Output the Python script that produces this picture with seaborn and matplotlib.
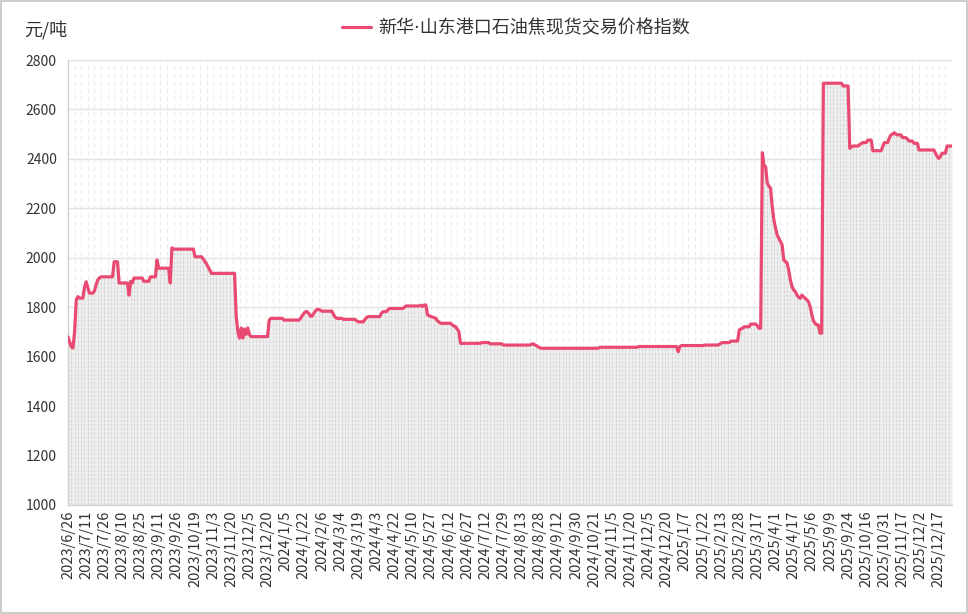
import numpy as np
import pandas as pd
import matplotlib
matplotlib.use("Agg")
import matplotlib.pyplot as plt
import seaborn as sns

# trading-day index at which the price changes, and the price from that day on
change_idx = [
    0, 1, 2, 3, 4, 5, 6, 7, 10, 11, 12, 13, 16, 17, 18, 19, 20, 28, 31, 37,
    38, 39, 40, 46, 50, 54, 55, 62, 63, 64, 77, 82, 83, 84, 85, 86, 87, 102, 103, 104,
    105, 106, 107, 108, 109, 110, 111, 122, 123, 131, 141, 142, 143, 144, 146, 147, 149, 150, 151, 153,
    154, 161, 162, 163, 167, 175, 176, 180, 181, 182, 190, 191, 194, 195, 204, 205, 214, 215, 216, 218,
    219, 220, 221, 222, 223, 224, 225, 226, 233, 234, 235, 236, 237, 238, 251, 256, 264, 281, 282, 283,
    284, 285, 286, 287, 322, 323, 346, 370, 371, 372, 386, 395, 396, 397, 402, 407, 408, 409, 410, 414,
    418, 419, 421, 422, 423, 424, 425, 426, 427, 428, 429, 430, 431, 432, 433, 434, 435, 436, 437, 438,
    439, 440, 441, 442, 443, 444, 445, 446, 447, 448, 449, 450, 451, 452, 453, 454, 456, 458, 470, 474,
    475, 476, 480, 481, 482, 485, 488, 494, 495, 498, 499, 500, 501, 502, 503, 506, 509, 510, 513, 516,
    526, 527, 528, 529, 530, 533,
]
change_price = [
    1680, 1660, 1640, 1635, 1700, 1830, 1843, 1837, 1880, 1903, 1880, 1857, 1865, 1890, 1910, 1918, 1923, 1984, 1898, 1849,
    1905, 1898, 1918, 1905, 1923, 1991, 1958, 1898, 2040, 2035, 2004, 1995, 1985, 1975, 1962, 1950, 1937, 1762, 1700, 1675,
    1716, 1675, 1712, 1690, 1716, 1690, 1681, 1748, 1755, 1748, 1755, 1765, 1775, 1782, 1775, 1764, 1775, 1785, 1791, 1788,
    1784, 1770, 1760, 1755, 1751, 1745, 1741, 1750, 1758, 1762, 1775, 1782, 1790, 1795, 1800, 1805, 1808, 1803, 1809, 1769,
    1766, 1762, 1760, 1758, 1755, 1745, 1740, 1735, 1728, 1724, 1721, 1712, 1701, 1654, 1657, 1652, 1647, 1650, 1652, 1648,
    1645, 1640, 1636, 1634, 1636, 1638, 1641, 1620, 1641, 1645, 1647, 1650, 1655, 1657, 1663, 1708, 1712, 1715, 1721, 1732,
    1725, 1715, 2425, 2375, 2368, 2301, 2290, 2281, 2207, 2153, 2120, 2092, 2079, 2065, 2052, 1991, 1985, 1978, 1950, 1910,
    1883, 1870, 1863, 1850, 1840, 1836, 1849, 1842, 1836, 1830, 1822, 1802, 1770, 1745, 1735, 1728, 1695, 2706, 2695, 2443,
    2448, 2452, 2458, 2462, 2466, 2476, 2433, 2450, 2466, 2485, 2497, 2500, 2506, 2500, 2497, 2486, 2480, 2472, 2463, 2436,
    2423, 2410, 2402, 2410, 2423, 2452,
]
n_days = 537

# x labels, one every 11 trading days
tick_labels = [
    "2023/6/26", "2023/7/11", "2023/7/26", "2023/8/10", "2023/8/25", "2023/9/11", "2023/9/26",
    "2023/10/19", "2023/11/3", "2023/11/20", "2023/12/5", "2023/12/20", "2024/1/5", "2024/1/22",
    "2024/2/6", "2024/3/4", "2024/3/19", "2024/4/3", "2024/4/22", "2024/5/10", "2024/5/27",
    "2024/6/12", "2024/6/27", "2024/7/12", "2024/7/29", "2024/8/13", "2024/8/28", "2024/9/12",
    "2024/9/30", "2024/10/21", "2024/11/5", "2024/11/20", "2024/12/5", "2024/12/20", "2025/1/7",
    "2025/1/22", "2025/2/13", "2025/2/28", "2025/3/17", "2025/4/1", "2025/4/17", "2025/5/6",
    "2025/9/9", "2025/9/24", "2025/10/16", "2025/10/31", "2025/11/17", "2025/12/2", "2025/12/17",
]
label_step = 11

series_name = "新华·山东港口石油焦现货交易价格指数"

# expand step data to one value per trading day
run_len = np.diff(change_idx + [n_days])
price = np.repeat(change_price, run_len)
df = pd.DataFrame({"day": np.arange(n_days), "price": price})

sns.set_style("white")
plt.rcParams["font.family"] = ["Noto Sans CJK SC", "DejaVu Sans"]

fig = plt.figure(figsize=(9.68, 6.14), dpi=100)
fig.patch.set_edgecolor("#cccccc")
fig.patch.set_linewidth(1.5)
ax = fig.add_axes([68 / 968, 1 - 505 / 614, (952 - 68) / 968, (505 - 60) / 614])

line_color = "#e84a72"

# vertical dashed grid
ax.vlines(df["day"][::4], 1000, 2800, colors="#ececec", linestyles=(0, (4, 3)),
          linewidth=0.8, zorder=0)
# area under the line
ax.fill_between(df["day"], 1000, df["price"], color="#eeeeee", zorder=1, linewidth=0)
ax.vlines(df["day"][::2], 1000, df["price"][::2], colors="#d0d0d0", linestyles=(0, (3, 2)),
          linewidth=0.6, zorder=1)

sns.lineplot(data=df, x="day", y="price", ax=ax, color=line_color, linewidth=2.3,
             label=series_name, zorder=3)

ax.set_xlim(0, n_days - 1)
ax.set_ylim(1000, 2800)
ax.set_yticks(range(1000, 2801, 200))
ax.set_xticks(range(0, len(tick_labels) * label_step, label_step))
ax.set_xticklabels(tick_labels, rotation=90, fontsize=10.5, color="#333333")
ax.tick_params(axis="y", labelsize=10, labelcolor="#333333", length=0, pad=8)
ax.tick_params(axis="x", length=0, pad=4)
ax.yaxis.grid(True, color="#e3e3e3", linewidth=1)
ax.set_axisbelow(True)
ax.set_xlabel("")
ax.set_ylabel("")
for side in ["top", "right"]:
    ax.spines[side].set_visible(False)
for side in ["left", "bottom"]:
    ax.spines[side].set_color("#d0d0d0")
    ax.spines[side].set_linewidth(1)

fig.text(24 / 968, 1 - 30 / 614, "元/吨", fontsize=13, color="#333333", va="center", ha="left")

handles, labels = ax.get_legend_handles_labels()
ax.legend_.remove()
fig.legend(handles=handles, labels=labels, loc="center", bbox_to_anchor=(516 / 968, 1 - 28 / 614),
           frameon=False, handlelength=1.6, handletextpad=0.4, labelcolor="#333333",
           prop={"family": ["DejaVu Sans", "Noto Sans CJK SC"], "size": 13})

fig.savefig("out.png", dpi=100)
